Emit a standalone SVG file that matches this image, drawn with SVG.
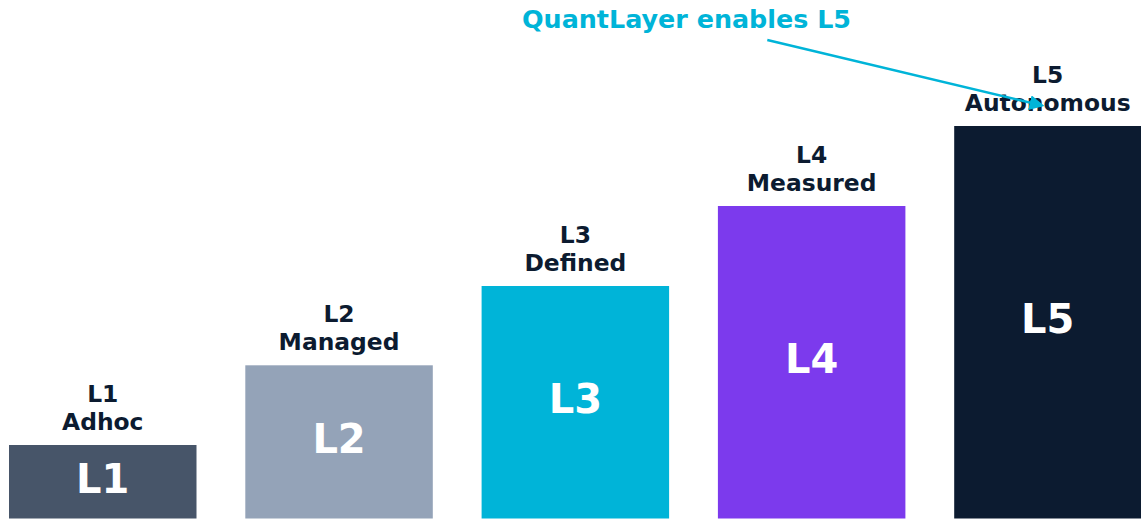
<svg xmlns="http://www.w3.org/2000/svg" width="1141" height="520" viewBox="0 0 1141 520">
<defs>
<style>
.lbl{font-family:"DejaVu Sans",sans-serif;font-weight:bold;font-size:23.4px;fill:#0c1b30;text-anchor:middle}
.big{font-family:"DejaVu Sans",sans-serif;font-weight:bold;font-size:40px;fill:#ffffff;text-anchor:middle}
.title{font-family:"DejaVu Sans",sans-serif;font-weight:bold;font-size:25.4px;fill:#00b4d8;text-anchor:middle}
</style>
<marker id="ah" markerWidth="6" markerHeight="6" refX="5" refY="3" orient="auto" markerUnits="strokeWidth">
<path d="M0,0 L6,3 L0,6 Z" fill="#00b4d8"/>
</marker>
</defs>
<rect width="1141" height="520" fill="#ffffff"/>
<g id="L1">
<rect x="9" y="445" width="187.5" height="73.5" fill="#475569"/>
<text class="big" x="102.75" y="492.7">L1</text>
<text class="lbl" x="102.75" y="401.7">L1</text>
<text class="lbl" x="102.75" y="430">Adhoc</text>
</g>
<g id="L2">
<rect x="245.3" y="365.3" width="187.5" height="153.2" fill="#94a3b8"/>
<text class="big" x="339.05" y="452.9">L2</text>
<text class="lbl" x="339.05" y="322">L2</text>
<text class="lbl" x="339.05" y="350.3">Managed</text>
</g>
<g id="L3">
<rect x="481.6" y="286" width="187.5" height="232.5" fill="#00b4d8"/>
<text class="big" x="575.35" y="413.3">L3</text>
<text class="lbl" x="575.35" y="242.7">L3</text>
<text class="lbl" x="575.35" y="271">Defined</text>
</g>
<g id="L4">
<rect x="717.9" y="206" width="187.5" height="312.5" fill="#7c3aed"/>
<text class="big" x="811.65" y="373.3">L4</text>
<text class="lbl" x="811.65" y="162.7">L4</text>
<text class="lbl" x="811.65" y="191">Measured</text>
</g>
<g id="L5">
<rect x="954.2" y="126" width="187" height="392.5" fill="#0c1b30"/>
<text class="big" x="1047.7" y="333.3">L5</text>
<text class="lbl" x="1047.7" y="82.7">L5</text>
<text class="lbl" x="1047.7" y="111">Autonomous</text>
</g>
<g id="annotation">
<text class="title" x="686.5" y="27.5">QuantLayer enables L5</text>
</g>
<g id="connectors">
<line x1="767.3" y1="40" x2="1042" y2="105.5" stroke="#00b4d8" stroke-width="2.5" marker-end="url(#ah)"/>
</g>
</svg>
